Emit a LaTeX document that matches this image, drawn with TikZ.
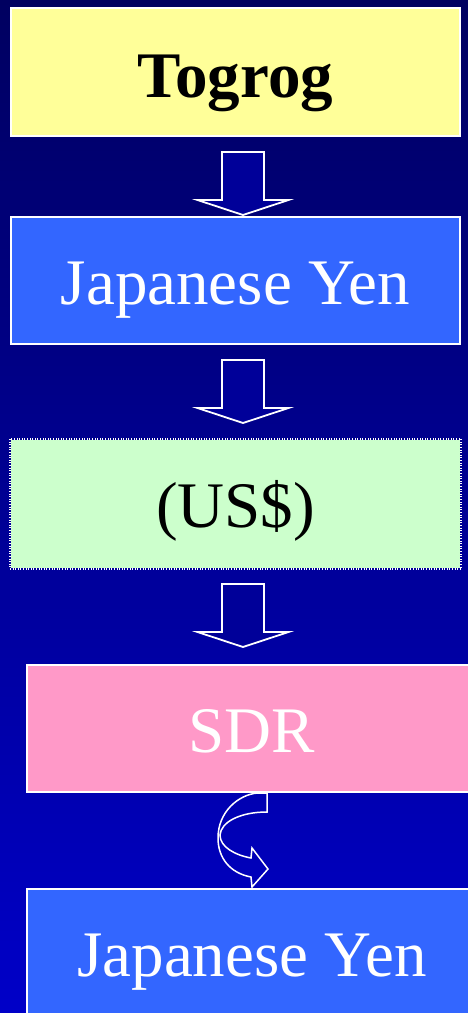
\documentclass[tikz,border=0pt]{standalone}
\usepackage{fontspec}
\setmainfont{Liberation Serif}
\usepackage{color}

\definecolor{bgtop}{RGB}{0,0,96}
\definecolor{bgbottom}{RGB}{0,0,200}
\definecolor{arrowblue}{RGB}{0,0,153}
\definecolor{togrogfill}{RGB}{255,255,153}
\definecolor{yenfill}{RGB}{51,102,255}
\definecolor{usdfill}{RGB}{204,255,204}
\definecolor{sdrfill}{RGB}{255,153,200}

\begin{document}
\begin{tikzpicture}[%
      x=1pt, y=-1pt,
      box/.style={draw=white, line width=2pt, inner sep=0pt,
        minimum width=449pt, minimum height=128pt,
        text height=47pt, text depth=0pt,
        font=\fontsize{65}{72}\selectfont},
      blockarrow/.style={draw=white, fill=arrowblue, line width=1.8pt},
      pics/downarrow/.style={code={
        \filldraw[blockarrow] (-21,0) -- (21,0) -- (21,48) -- (45.5,48)
          -- (0,63) -- (-45.5,48) -- (-21,48) -- cycle;
      }},
      ]
      \useasboundingbox (0,0) rectangle (468,1013);
      \clip (0,0) rectangle (468,1013);
      \shade [top color=bgtop, bottom color=bgbottom] (0,0) rectangle (468,1013);

      \node [box, fill=togrogfill, text=black, text height=50pt,
        font=\fontsize{65}{72}\selectfont\bfseries] (togrog) at (235.5,72) {Togrog};
      \node [box, fill=yenfill, text=white, minimum height=127pt] (yen) at (235.5,280.5) {Japanese Yen};
      \node [box, fill=usdfill, text=black, draw=none] (usd) at (235.5,504) {(US\$)};
      \draw [white, line width=1.2pt, dash pattern=on 1pt off 1.6pt]
        (usd.north west) rectangle (usd.south east);
      \node [box, fill=sdrfill, text=white, minimum width=450pt, minimum height=127pt] (sdr) at (252,728.5) {SDR};
      \node [box, fill=yenfill, text=white, minimum width=450pt] (yenb) at (252,953) {Japanese Yen};

      \pic at (243,152) {downarrow};
      \pic at (243,360) {downarrow};
      \pic at (243,584) {downarrow};

      \draw [white, line width=1.5pt, line join=miter]
        (267,793) -- (267,812)
        .. controls (240,812) and (221,822) .. (220,835)
        .. controls (220,847) and (235,855) .. (251,858)
        -- (252,848) -- (268,869) -- (252,887) -- (251,877)
        .. controls (230,873) and (218,858) .. (218,838)
        .. controls (218,812) and (238,795) .. (257,793) -- cycle;
      \end{tikzpicture}
\end{document}
